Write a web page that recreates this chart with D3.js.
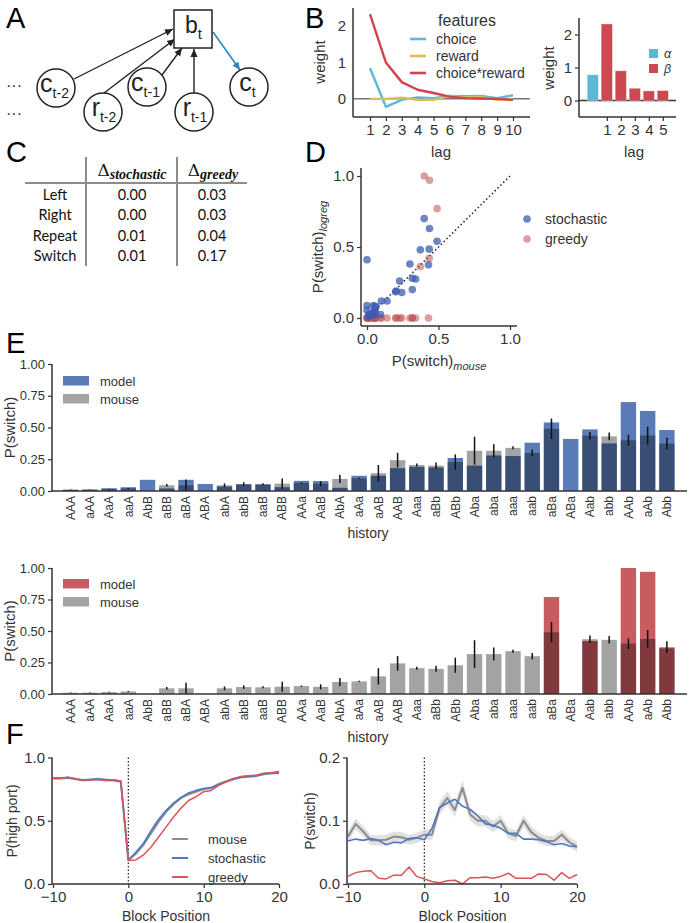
<!DOCTYPE html>
<html><head><meta charset="utf-8">
<script src="https://cdn.jsdelivr.net/npm/d3@7"></script>
<style>body{margin:0;background:#fff}</style>
</head><body>
<svg id="c" width="691" height="923" xmlns="http://www.w3.org/2000/svg"></svg>
<script>
// ================= DATA =================
// Panel B (left): regression weights by lag
const lags = [1,2,3,4,5,6,7,8,9,10];
const wChoice = [0.84,-0.22,-0.03,0.04,0.02,0.08,0.07,0.08,0.02,0.10];
const wReward = [0.0,0.0,0.03,-0.03,-0.03,0.08,0.04,0.05,-0.03,0.0];
const wChoiceReward = [2.33,1.0,0.46,0.25,0.16,0.06,0.02,0.01,0.0,-0.03];
const featureNames = ["choice","reward","choice*reward"];
// Panel B (right): alpha / beta weights
const paramCats = ["α","1","2","3","4","5"];
const paramGroup = ["α","β","β","β","β","β"];
const paramWeights = [0.78,2.32,0.90,0.37,0.29,0.30];
const betaTicks = ["1","2","3","4","5"];
// Panel C: table
const tableRows = ["Left","Right","Repeat","Switch"];
const deltaStochastic = ["0.00","0.00","0.01","0.01"];
const deltaGreedy = ["0.03","0.03","0.04","0.17"];
// Panel E / D: switch probability by history
const histories = ["AAA","aAA","AaA","aaA","AbB","aBB","aBA","ABA","abA","abB","aaB","ABB","AAa","AaB","AbA","aAa","aAB","AAB","Aaa","aBb","ABb","Aba","aba","aaa","aab","aBa","ABa","Aab","abb","AAb","aAb","Abb"];
const mouseSwitch = [0.01,0.01,0.015,0.02,0,0.045,0.045,0,0.045,0.055,0.053,0.058,0.063,0.057,0.095,0.10,0.14,0.243,0.205,0.20,0.228,0.317,0.317,0.34,0.30,0.49,0,0.435,0.43,0.40,0.437,0.373];
const mouseSem = [0.002,0.002,0.003,0.004,0,0.01,0.045,0,0.015,0.014,0.008,0.04,0.005,0.02,0.032,0.005,0.065,0.058,0.012,0.024,0.06,0.11,0.052,0.012,0.025,0.08,0,0.03,0.03,0.042,0.07,0.046];
const stochSwitch = [0.01,0.012,0.022,0.03,0.088,0.02,0.088,0.055,0.035,0.052,0.052,0.03,0.08,0.078,0.025,0.12,0.12,0.18,0.19,0.185,0.26,0.20,0.28,0.275,0.38,0.54,0.41,0.485,0.375,0.70,0.63,0.48];
const greedySwitch = [0,0,0,0,0,0,0,0,0,0,0,0,0,0,0,0,0,0,0,0,0,0,0,0,0,0.77,0,0.42,0,1.0,0.97,0.363];
// Panel F
const blockPos = [-10,-9,-8,-7,-6,-5,-4,-3,-2,-1,0,1,2,3,4,5,6,7,8,9,10,11,12,13,14,15,16,17,18,19,20];
const highMouse = [0.835,0.835,0.84,0.83,0.82,0.825,0.83,0.82,0.82,0.81,0.19,0.24,0.31,0.40,0.49,0.57,0.63,0.68,0.71,0.73,0.75,0.76,0.79,0.81,0.83,0.845,0.85,0.855,0.87,0.875,0.88];
const highMouseSem = [0.012,0.012,0.012,0.012,0.012,0.012,0.012,0.012,0.012,0.012,0.01,0.012,0.012,0.012,0.012,0.012,0.012,0.012,0.012,0.012,0.012,0.012,0.012,0.012,0.012,0.012,0.012,0.012,0.012,0.012,0.012];
const highStoch = [0.835,0.835,0.84,0.83,0.82,0.825,0.83,0.825,0.82,0.81,0.19,0.25,0.32,0.42,0.51,0.58,0.64,0.685,0.72,0.74,0.755,0.76,0.785,0.81,0.83,0.845,0.85,0.855,0.87,0.875,0.875];
const highGreedy = [0.835,0.835,0.845,0.83,0.82,0.825,0.825,0.82,0.825,0.815,0.185,0.19,0.23,0.29,0.37,0.45,0.53,0.60,0.66,0.69,0.73,0.74,0.78,0.81,0.835,0.85,0.855,0.86,0.875,0.88,0.89];
const swMouse = [0.075,0.095,0.083,0.069,0.069,0.07,0.075,0.074,0.07,0.073,0.078,0.078,0.12,0.136,0.117,0.152,0.11,0.10,0.10,0.091,0.10,0.08,0.076,0.10,0.082,0.073,0.068,0.068,0.078,0.066,0.059];
const swMouseSem = [0.009,0.009,0.008,0.008,0.008,0.008,0.008,0.008,0.008,0.008,0.008,0.009,0.01,0.011,0.011,0.012,0.01,0.009,0.009,0.009,0.009,0.009,0.009,0.009,0.009,0.008,0.008,0.008,0.008,0.008,0.008];
const swStoch = [0.068,0.071,0.069,0.072,0.069,0.062,0.066,0.065,0.072,0.073,0.07,0.088,0.121,0.128,0.134,0.123,0.118,0.108,0.095,0.093,0.088,0.08,0.08,0.071,0.071,0.07,0.067,0.062,0.064,0.06,0.059];
const swGreedy = [0.012,0.018,0.02,0.021,0.009,0.008,0.014,0.014,0.027,0.012,0.008,0.004,0.002,0.005,0.006,0.0,0.01,0.01,0.011,0.009,0.012,0.017,0.009,0.009,0.009,0.016,0.015,0.006,0.018,0.009,0.015];
const fSeries = ["mouse","stochastic","greedy"];

// ================= STYLE =================
const FONT = '"Liberation Sans", Arial, Helvetica, sans-serif';
const INK = "#333";
const C_CHOICE = "#5bbad5", C_REWARD = "#d9bd5b", C_CR = "#d2414d";
const C_ALPHA = "#5cb8d3", C_BETA = "#cc4952";
const C_BLUE = "#4c70b0", C_RED = "#c44e52";
const svg = d3.select("#c");
const defs = svg.append("defs");

function styleAxis(g, fs){
  g.select(".domain").remove();
  g.selectAll(".tick line").attr("stroke",INK).attr("stroke-width",1.2);
  g.selectAll(".tick text").attr("fill",INK).attr("font-size",fs).attr("font-family",FONT);
}
function yAxis(x, scale, ticks, fmt, fs){
  const g = svg.append("g").attr("transform",`translate(${x},0)`)
    .call(d3.axisLeft(scale).tickValues(ticks).tickFormat(fmt).tickSize(4).tickPadding(3));
  styleAxis(g, fs); return g;
}
function xAxis(y, scale, ticks, fmt, fs){
  const g = svg.append("g").attr("transform",`translate(0,${y})`)
    .call(d3.axisBottom(scale).tickValues(ticks).tickFormat(fmt).tickSize(4).tickPadding(3));
  styleAxis(g, fs); return g;
}
function spine(x1,y1,x2,y2){
  svg.append("line").attr("x1",x1).attr("y1",y1).attr("x2",x2).attr("y2",y2)
    .attr("stroke",INK).attr("stroke-width",1.5);
}
function label(x,y,txt,fs,anchor,rot){
  const t = svg.append("text").attr("font-family",FONT).attr("font-size",fs).attr("fill",INK)
    .attr("text-anchor",anchor||"middle").text(txt);
  if(rot) t.attr("transform",`translate(${x},${y}) rotate(${rot})`); else t.attr("x",x).attr("y",y);
  return t;
}
function panelLabel(x,y,t){
  svg.append("text").attr("x",x).attr("y",y).attr("font-family",FONT).attr("font-size",29).attr("fill","#000").text(t);
}

// ================= PANEL A =================
panelLabel(6,28,"A");
function marker(id,color){
  defs.append("marker").attr("id",id).attr("viewBox","0 0 10 10").attr("refX",10).attr("refY",5)
    .attr("markerWidth",8).attr("markerHeight",8).attr("markerUnits","userSpaceOnUse").attr("orient","auto")
    .append("path").attr("d","M0,0.5L10,5L0,9.5Z").attr("fill",color);
}
marker("arrK","#222"); marker("arrB","#2a86c9");
const nodes = [
  {n:"c",s:"t-2",x:56,y:88},{n:"r",s:"t-2",x:103,y:112},{n:"c",s:"t-1",x:147,y:87},
  {n:"r",s:"t-1",x:194,y:112},{n:"c",s:"t",x:249,y:87}];
const edges = [[74,79,173,29],[104,93,175,39],[162,75,182,48],[194,93,194,49]];
edges.forEach(e=>svg.append("line").attr("x1",e[0]).attr("y1",e[1]).attr("x2",e[2]).attr("y2",e[3])
  .attr("stroke","#222").attr("stroke-width",1.4).attr("marker-end","url(#arrK)"));
svg.append("line").attr("x1",213).attr("y1",32).attr("x2",240).attr("y2",70)
  .attr("stroke","#2a86c9").attr("stroke-width",1.6).attr("marker-end","url(#arrB)");
svg.append("rect").attr("x",174).attr("y",10).attr("width",38).attr("height",38)
  .attr("fill","#fff").attr("stroke","#222").attr("stroke-width",1.5);
const bt = svg.append("text").attr("x",185).attr("y",33).attr("font-family",FONT).attr("fill","#222");
bt.append("tspan").attr("font-size",23).text("b");
bt.append("tspan").attr("font-size",15).attr("dy",6).text("t");
nodes.forEach(d=>{
  svg.append("circle").attr("cx",d.x).attr("cy",d.y).attr("r",19).attr("fill","#fff").attr("stroke","#222").attr("stroke-width",1.5);
  const t = svg.append("text").attr("x",d.x+(d.n==="r"?1:-1.5)).attr("y",d.y+4).attr("font-family",FONT)
    .attr("fill","#222").attr("text-anchor","middle");
  t.append("tspan").attr("font-size",25).text(d.n);
  t.append("tspan").attr("font-size",14).attr("dy",6).text(d.s);
});
label(14,91,"···",16,"middle");
label(14,119,"···",16,"middle");

// ================= PANEL B left =================
panelLabel(305,28,"B");
const xB = d3.scaleLinear().domain([1,10]).range([370,513]);
const yB = d3.scaleLinear().domain([-0.5,2.5]).range([117,8]);
svg.append("line").attr("x1",353).attr("x2",530).attr("y1",yB(0)).attr("y2",yB(0)).attr("stroke","#777").attr("stroke-width",1.5);
const bSeries = [wChoice,wReward,wChoiceReward], bColors=[C_CHOICE,C_REWARD,C_CR];
const lineB = d3.line().x((d,i)=>xB(lags[i])).y(d=>yB(d));
bSeries.forEach((s,k)=>svg.append("path").datum(s).attr("d",lineB).attr("fill","none")
  .attr("stroke",bColors[k]).attr("stroke-width",2.4).attr("stroke-linejoin","round"));
spine(353,8,353,117); spine(353,117,530,117);
yAxis(353,yB,[0,1,2],d3.format("d"),15).selectAll(".tick line").remove();
xAxis(117,xB,lags,d3.format("d"),15);
label(325,62,"weight",15,"middle",-90);
label(441,157,"lag",15);
label(467,26,"features",16);
featureNames.forEach((f,i)=>{
  const y=39+i*17;
  svg.append("line").attr("x1",410).attr("x2",426).attr("y1",y).attr("y2",y).attr("stroke",bColors[i]).attr("stroke-width",2.6);
  label(436,y+5,f,14,"start");
});

// ================= PANEL B right =================
const xP = d3.scaleBand().domain(paramCats).range([585.8,669.8]).paddingInner(0.2).paddingOuter(0.1);
const yP = d3.scaleLinear().domain([-0.5,2.5]).range([117,18]);
svg.append("line").attr("x1",579).attr("x2",676).attr("y1",yP(0)).attr("y2",yP(0)).attr("stroke","#333").attr("stroke-width",1.5);
svg.selectAll(".pbar").data(paramWeights).enter().append("rect")
  .attr("x",(d,i)=>xP(paramCats[i])).attr("width",xP.bandwidth())
  .attr("y",d=>yP(d)).attr("height",d=>yP(0)-yP(d))
  .attr("fill",(d,i)=>paramGroup[i]==="α"?C_ALPHA:C_BETA).attr("stroke","#fff").attr("stroke-opacity",0.4).attr("stroke-width",0.8);
spine(579,18,579,117); spine(579,117,676,117);
yAxis(579,yP,[0,1,2],d3.format("d"),15);
const xPa = d3.scalePoint().domain(betaTicks).range([xP("1")+xP.bandwidth()/2, xP("5")+xP.bandwidth()/2]);
xAxis(117,xPa,betaTicks,d=>d,15);
label(554,68,"weight",15,"middle",-90);
label(634,157,"lag",15);
[["α",C_ALPHA,49],["β",C_BETA,64]].forEach(l=>{
  svg.append("rect").attr("x",649).attr("y",l[2]).attr("width",9).attr("height",9).attr("fill",l[1]);
  label(664,l[2]+8.5,l[0],12.5,"start").attr("font-style","italic");
});

// ================= PANEL C =================
panelLabel(6,162,"C");
const TF = 'Lato, "Open Sans", sans-serif';
const colX = [55,132,212];
const rowY0 = 200, rowStep = 20.3;
svg.append("line").attr("x1",25).attr("x2",247).attr("y1",183).attr("y2",183).attr("stroke","#8c8c8c").attr("stroke-width",2);
[86,177].forEach(x=>svg.append("line").attr("x1",x).attr("x2",x).attr("y1",157).attr("y2",266).attr("stroke","#8c8c8c").attr("stroke-width",2));
[["stochastic",132],["greedy",213]].forEach(h=>{
  const t = svg.append("text").attr("x",h[1]).attr("y",176).attr("text-anchor","middle").attr("fill","#111");
  t.append("tspan").attr("font-family",'"DejaVu Serif", serif').attr("font-size",17).text("Δ");
  t.append("tspan").attr("font-family",'"Liberation Serif", serif').attr("font-size",14).attr("font-weight","bold").attr("font-style","italic").attr("dy",3).text(h[0]);
});
tableRows.forEach((r,i)=>{
  const y = rowY0+i*rowStep;
  [r,deltaStochastic[i],deltaGreedy[i]].forEach((v,j)=>{
    svg.append("text").attr("x",colX[j]).attr("y",y).attr("text-anchor","middle").attr("font-family",TF)
      .attr("font-size",14.5).attr("fill","#111").text(v);
  });
});

// ================= PANEL D =================
panelLabel(305,162,"D");
const xD = d3.scaleLinear().domain([0,1]).range([367,510]);
const yD = d3.scaleLinear().domain([0,1]).range([318,176]);
svg.append("line").attr("x1",xD(0)).attr("y1",yD(0)).attr("x2",xD(1)).attr("y2",yD(1))
  .attr("stroke","#222").attr("stroke-width",1.5).attr("stroke-dasharray","1.5,2.5");
svg.append("g").selectAll("circle").data(greedySwitch).enter().append("circle")
  .attr("cx",(d,i)=>xD(mouseSwitch[i])).attr("cy",d=>yD(d)).attr("r",3.8).attr("fill","#c0504f").attr("fill-opacity",0.55);
svg.append("g").selectAll("circle").data(stochSwitch).enter().append("circle")
  .attr("cx",(d,i)=>xD(mouseSwitch[i])).attr("cy",d=>yD(d)).attr("r",3.8).attr("fill","#3d5cb2").attr("fill-opacity",0.75);
spine(361,168,361,326); spine(361,326,517,326);
yAxis(361,yD,[0,0.5,1],d3.format(".1f"),15);
xAxis(326,xD,[0,0.5,1],d3.format(".1f"),15);
{
  const t = svg.append("text").attr("transform","translate(323,247) rotate(-90)").attr("text-anchor","middle")
    .attr("font-family",FONT).attr("fill",INK);
  t.append("tspan").attr("font-size",15).text("P(switch)");
  t.append("tspan").attr("font-size",11).attr("font-style","italic").attr("dy",4).text("logreg");
  const u = svg.append("text").attr("x",439).attr("y",366).attr("text-anchor","middle").attr("font-family",FONT).attr("fill",INK);
  u.append("tspan").attr("font-size",15).text("P(switch)");
  u.append("tspan").attr("font-size",11).attr("font-style","italic").attr("dy",4).text("mouse");
}
[["stochastic","#3d5cb2",0.75,219],["greedy","#c0504f",0.55,239]].forEach(l=>{
  svg.append("circle").attr("cx",527).attr("cy",l[3]).attr("r",3.8).attr("fill",l[1]).attr("fill-opacity",l[2]);
  label(545,l[3]+5,l[0],14,"start");
});

// ================= PANEL E =================
panelLabel(6,353,"E");
const xE = d3.scaleBand().domain(histories).range([61,676.5]).paddingInner(0.2).paddingOuter(0.1);
function panelE(y0,y1,modelVals,modelColor,legY){
  const yE = d3.scaleLinear().domain([0,1]).range([y0,y1]);
  const g = svg.append("g");
  g.selectAll(".m").data(modelVals).enter().append("rect")
    .attr("x",(d,i)=>xE(histories[i])).attr("width",xE.bandwidth())
    .attr("y",d=>yE(d)).attr("height",d=>y0-yE(d)).attr("fill",modelColor).attr("fill-opacity",0.92);
  g.selectAll(".u").data(mouseSwitch).enter().append("rect")
    .attr("x",(d,i)=>xE(histories[i])).attr("width",xE.bandwidth())
    .attr("y",d=>yE(d)).attr("height",d=>y0-yE(d)).attr("fill","#000").attr("fill-opacity",0.36);
  mouseSwitch.forEach((d,i)=>{
    if(d<=0) return;
    const cx = xE(histories[i])+xE.bandwidth()/2;
    g.append("line").attr("x1",cx).attr("x2",cx).attr("y1",yE(d-mouseSem[i])).attr("y2",yE(d+mouseSem[i]))
      .attr("stroke","#111").attr("stroke-width",1.5);
  });
  spine(52,y1,52,y0); spine(52,y0,687,y0);
  yAxis(52,yE,[0,0.25,0.5,0.75,1],d3.format(".2f"),13);
  histories.forEach(h=>{
    svg.append("text").attr("transform",`translate(${xE(h)+xE.bandwidth()/2},${y0+5}) rotate(-90)`)
      .attr("text-anchor","end").attr("dy","0.35em").attr("font-family",FONT).attr("font-size",12).attr("fill",INK).text(h);
  });
  label(10,(y0+y1)/2,"P(switch)",15,"middle",-90).attr("dy","0.35em");
  [["model",modelColor,0.92],["mouse","#000",0.36]].forEach((l,k)=>{
    svg.append("rect").attr("x",63).attr("y",legY+k*18).attr("width",26).attr("height",9.5).attr("fill",l[1]).attr("fill-opacity",l[2]);
    label(100,legY+k*18+9.5,l[0],13,"start");
  });
}
panelE(491,364,stochSwitch,C_BLUE,376);
label(368,538,"history",14);
panelE(694,568,greedySwitch,C_RED,579);
label(368,742,"history",14);

// ================= PANEL F =================
panelLabel(6,744,"F");
function panelF(xr,ydom,mouse,sem,stoch,greedy,ticks,fmt,yl,ylx,legend){
  const xF = d3.scaleLinear().domain([-10,20]).range(xr);
  const yF = d3.scaleLinear().domain(ydom).range([884,757.5]);
  svg.append("line").attr("x1",xF(0)).attr("x2",xF(0)).attr("y1",yF(ydom[1])).attr("y2",yF(ydom[0]))
    .attr("stroke","#222").attr("stroke-width",1.2).attr("stroke-dasharray","1.5,2");
  const area = d3.area().x((d,i)=>xF(blockPos[i])).y0((d,i)=>yF(d-sem[i])).y1((d,i)=>yF(d+sem[i]));
  svg.append("path").datum(mouse).attr("d",area).attr("fill","#d9d9d9").attr("fill-opacity",0.8);
  const ln = d3.line().x((d,i)=>xF(blockPos[i])).y(d=>yF(d));
  const cols = ["#8c8c8c","#4c78c6","#dd5359"], ws=[2,1.6,1.5];
  [mouse,stoch,greedy].forEach((s,k)=>svg.append("path").datum(s).attr("d",ln).attr("fill","none")
    .attr("stroke",cols[k]).attr("stroke-width",ws[k]).attr("stroke-linejoin","round"));
  spine(xr[0]-1,757.5,xr[0]-1,884); spine(xr[0]-1,884,xr[1],884);
  yAxis(xr[0]-1,yF,ticks,fmt,15);
  xAxis(884,xF,[-10,0,10,20],d3.format("d"),15);
  label((xr[0]+xr[1])/2,921,"Block Position",14);
  label(ylx,821,yl,14,"middle",-90).attr("dy","0.35em");
  if(legend){
    fSeries.forEach((n,k)=>{
      const y=839+k*19;
      svg.append("line").attr("x1",172).attr("x2",188).attr("y1",y).attr("y2",y).attr("stroke",cols[k]).attr("stroke-width",2);
      label(208,y+5,n,13,"start");
    });
  }
}
panelF([53,279],[0,1],highMouse,highMouseSem,highStoch,highGreedy,[0,0.5,1],d3.format(".1f"),"P(high port)",12,true);
panelF([348,577],[0,0.2],swMouse,swMouseSem,swStoch,swGreedy,[0,0.1,0.2],d3.format(".1f"),"P(switch)",310,false);
</script>
</body></html>
